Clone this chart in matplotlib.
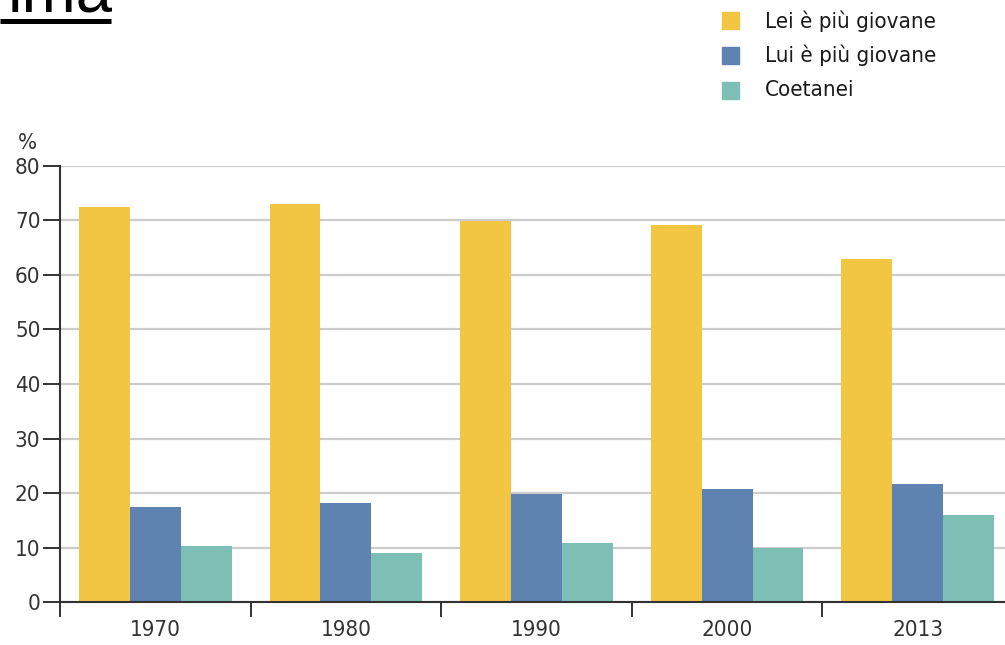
import matplotlib
matplotlib.use("Agg")
import matplotlib.pyplot as plt
import numpy as np
from matplotlib.patches import Rectangle
from matplotlib.lines import Line2D

# Dati
anni = ["1970", "1980", "1990", "2000", "2013"]
lei_piu_giovane = [72.4, 72.9, 69.9, 69.1, 62.9]
lui_piu_giovane = [17.4, 18.2, 19.8, 20.8, 21.6]
coetanei = [10.4, 9.0, 10.8, 10.0, 16.0]

etichette = ["Lei è più giovane", "Lui è più giovane", "Coetanei"]
colori = ["#F2C542", "#5E83B0", "#7DBFB5"]

plt.rcParams['font.family'] = ["DejaVu Sans"]
plt.rcParams['font.stretch'] = "condensed"

W, H = 1005, 645
fig = plt.figure(figsize=(W / 100, H / 100), dpi=100)

# Asse: parte oltre il bordo destro come nell'originale
ax = fig.add_axes([60 / W, (H - 602.3) / H, 953 / W, (602.3 - 165.7) / H])

x = np.arange(len(anni))
w = 0.267
serie = [lei_piu_giovane, lui_piu_giovane, coetanei]
for i, (vals, col) in enumerate(zip(serie, colori)):
    ax.bar(x + (i - 1) * w, vals, width=w, color=col, zorder=2)

ax.set_xlim(-0.5, len(anni) - 0.5)
ax.set_ylim(0, 80)
ax.set_yticks(range(0, 81, 10))
ax.yaxis.grid(True, color="#cccccc", linewidth=1.6, zorder=0)
ax.set_axisbelow(True)

# tacche ai confini dei gruppi, etichette al centro
ax.set_xticks(np.arange(-0.5, len(anni), 1.0))
ax.set_xticklabels([])
ax.set_xticks(x, minor=True)
ax.set_xticklabels(anni, minor=True)
ax.tick_params(axis="x", which="major", direction="out", length=11, width=1.4, color="#333333")
ax.tick_params(axis="x", which="minor", length=0, pad=13, labelsize=16, labelcolor="#333333")
ax.tick_params(axis="y", direction="out", length=12, width=1.4, color="#333333",
               pad=2, labelsize=16, labelcolor="#333333")

for s in ["top", "right"]:
    ax.spines[s].set_visible(False)
for s in ["left", "bottom"]:
    ax.spines[s].set_color("#333333")
    ax.spines[s].set_linewidth(1.5)
    ax.spines[s].set_zorder(3)

fig.text(18 / W, (H - 149) / H, "%", fontsize=16, color="#333333", va="baseline")

# Legenda
for i, (lab, col) in enumerate(zip(etichette, colori)):
    yc = 20.8 + i * 34.7
    fig.add_artist(Rectangle((722 / W, (H - yc - 8.5) / H), 17 / W, 17 / H,
                             transform=fig.transFigure, color=col))
    fig.text(765 / W, (H - yc) / H, lab, fontsize=16, color="#1a1a1a", va="center")

# Titolo tagliato in alto
fig.text(7.6 / W, (H - 12) / H, "ima", fontsize=47, family="Liberation Sans",
         stretch="normal", color="black", va="baseline")
fig.add_artist(Line2D([0, 111 / W], [(H - 20.5) / H] * 2, transform=fig.transFigure,
                      color="black", linewidth=3.6, solid_capstyle="butt"))

fig.savefig("out.png", dpi=100)
